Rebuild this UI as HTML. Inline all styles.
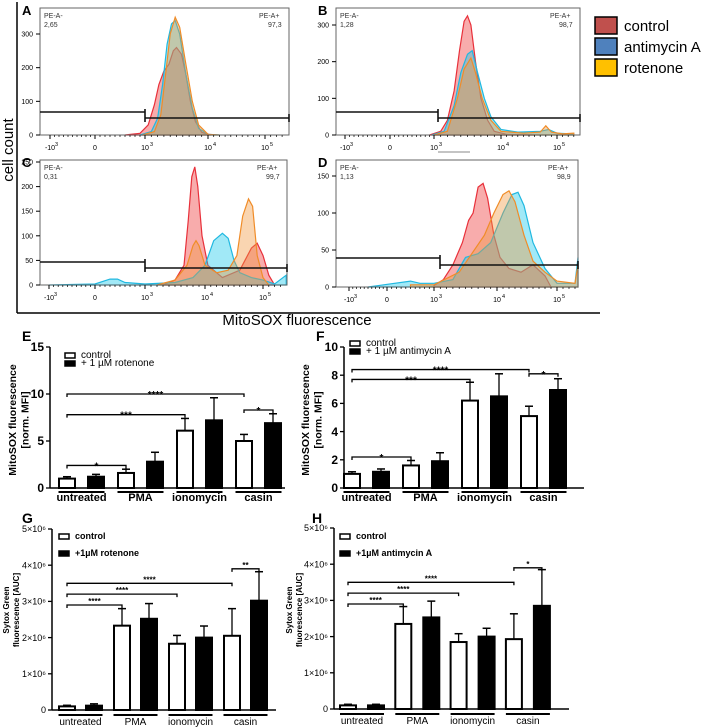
<!DOCTYPE html>
<html><head><meta charset="utf-8">
<style>
html,body{margin:0;padding:0;background:#fff;}
svg{display:block;font-family:"Liberation Sans",Arial,sans-serif;}
</style></head>
<body>
<svg id="fig" width="708" height="728" viewBox="0 0 708 728" xmlns="http://www.w3.org/2000/svg">
  <line x1="17" y1="2" x2="17" y2="313" stroke="#000" stroke-width="1.5"/>
  <line x1="17" y1="313" x2="600" y2="313" stroke="#000" stroke-width="1.5"/>
  <text x="13" y="150" font-size="15" text-anchor="middle" transform="rotate(-90 13 150)">cell count</text>
  <text x="297" y="325" font-size="15" text-anchor="middle">MitoSOX fluorescence</text>
  <g>
    <rect x="595" y="17" width="22" height="17" fill="#c0504d" stroke="#000" stroke-width="1.5"/>
    <text x="624" y="31" font-size="15">control</text>
    <rect x="595" y="38" width="22" height="17" fill="#4f81bd" stroke="#000" stroke-width="1.5"/>
    <text x="624" y="52" font-size="15">antimycin A</text>
    <rect x="595" y="59" width="22" height="17" fill="#ffc000" stroke="#000" stroke-width="1.5"/>
    <text x="624" y="73" font-size="15">rotenone</text>
  </g>
</svg>
<script>
// ---------- Flow histogram data (u: -1=-10^3, 0=0, 1=10^3, 2=10^4, 3=10^5 ; counts) ----------
const aRedU=[0.6,0.9,1.05,1.15,1.22,1.3,1.38,1.45,1.5,1.58,1.65,1.72,1.8,1.9,2.05];
const aRedC=[0,5,30,90,150,190,210,250,260,240,180,100,40,8,0];
const aBlueU=[0.9,1.1,1.2,1.28,1.35,1.42,1.48,1.55,1.65,1.75,1.85,2.0,2.2];
const aBlueC=[0,10,50,150,270,330,340,300,180,80,20,2,0];
const aOrU=[0.95,1.15,1.25,1.32,1.4,1.48,1.55,1.65,1.75,1.85,2.0,2.2];
const aOrC=[0,10,60,170,300,350,320,210,100,30,2,0];

const bRedU=[0.9,1.1,1.2,1.3,1.38,1.45,1.5,1.55,1.62,1.7,1.8,1.9,2.1,2.6];
const bRedC=[0,10,40,120,230,310,325,300,200,100,40,10,2,0];
const bBlueU=[0.95,1.15,1.3,1.4,1.5,1.57,1.65,1.75,1.85,2.0,2.3,2.7,2.85,3.0,3.3];
const bBlueC=[0,10,80,170,220,230,170,100,50,15,8,10,15,5,3];
const bOrU=[1.0,1.2,1.35,1.45,1.55,1.62,1.72,1.85,2.0,2.4,2.7,2.8,2.9,3.1,3.3];
const bOrC=[0,10,100,180,210,170,100,40,10,5,8,25,8,3,5];

const cRedU=[1.3,1.5,1.65,1.72,1.78,1.83,1.88,1.95,2.05,2.3,2.6,2.8,2.9,3.0,3.1,3.2];
const cRedC=[0,10,40,130,220,240,200,100,40,15,30,75,85,60,20,0];
const cBlueU=[-1,0,0.3,0.45,0.6,1.0,1.5,1.8,2.0,2.15,2.3,2.4,2.5,2.6,2.8,3.0,3.2,3.4];
const cBlueC=[0,2,12,12,5,2,5,15,40,90,105,95,50,25,15,10,2,20];
const cOrU=[1.2,1.5,1.7,1.8,1.85,1.9,2.0,2.2,2.4,2.55,2.65,2.75,2.82,2.9,3.0,3.1];
const cOrC=[0,10,40,80,90,80,40,25,30,60,140,175,160,60,15,0];

const dRedU=[1.0,1.15,1.3,1.45,1.55,1.62,1.7,1.78,1.85,1.95,2.05,2.2,2.4,2.6,2.8,2.9];
const dRedC=[2,10,30,60,90,100,135,140,120,70,40,25,20,30,15,0];
const dBlueU=[-0.5,0.5,0.7,1.0,1.3,1.5,1.7,1.9,2.1,2.25,2.35,2.45,2.6,2.8,3.0,3.3,3.4];
const dBlueC=[0,8,5,5,10,40,45,60,100,125,128,110,60,25,5,5,40];
const dOrU=[0.5,1.0,1.4,1.6,1.8,1.95,2.1,2.2,2.3,2.45,2.6,2.8,3.0,3.3,3.4];
const dOrC=[3,3,20,45,70,100,125,130,115,70,35,20,8,5,30];

const yTicksA=[0,100,200,300];
const yTicksB=[0,100,200,300];
const yTicksC=[0,50,100,150,200,250];
const yTicksD=[0,50,100,150];
const xTickU=[-1,0,1,2,3];

// ---------- Bar chart data ----------
const barCats=["untreated","PMA","ionomycin","casin"];
const eCtrl=[1.0,1.6,6.1,5.0];      const eCtrlErr=[0.2,0.4,1.3,0.7];
const eTreat=[1.2,2.8,7.2,6.9];     const eTreatErr=[0.25,1.0,2.4,1.0];
const eTicks=[0,5,10,15];
const fCtrl=[1.0,1.6,6.2,5.1];      const fCtrlErr=[0.15,0.35,1.3,0.7];
const fTreat=[1.15,1.9,6.5,6.95];   const fTreatErr=[0.2,0.6,1.6,0.8];
const fTicks=[0,2,4,6,8,10];
const gCtrl=[0.1,2.33,1.83,2.05];   const gCtrlErr=[0.03,0.47,0.23,0.75];
const gTreat=[0.12,2.52,2.0,3.02];  const gTreatErr=[0.05,0.42,0.32,0.8];
const gTicks=[0,1,2,3,4,5];
const hCtrl=[0.1,2.35,1.85,1.93];   const hCtrlErr=[0.03,0.48,0.23,0.7];
const hTreat=[0.1,2.53,2.0,2.85];   const hTreatErr=[0.03,0.45,0.23,1.0];
const hTicks=[0,1,2,3,4,5];
// significance: [fromGroup, toGroup, level, stars, toTreated]
const eSig=[[0,1,2.4,"*",0],[0,2,7.8,"***",0],[0,3,10,"****",0],[3,3,8.3,"*",1]];
const fSig=[[0,1,2.2,"*",0],[0,2,7.7,"***",0],[0,3,8.4,"****",0],[3,3,8.1,"*",1]];
const gSig=[[0,1,2.9,"****",0],[0,2,3.2,"****",0],[0,3,3.5,"****",0],[3,3,3.9,"**",1]];
const hSig=[[0,1,2.9,"****",0],[0,2,3.2,"****",0],[0,3,3.5,"****",0],[3,3,3.9,"*",1]];

const NS="http://www.w3.org/2000/svg";
const svg=document.getElementById('fig');
function mk(tag,attrs,parent,txt){const e=document.createElementNS(NS,tag);for(const k in attrs)e.setAttribute(k,attrs[k]);if(txt!==undefined)e.textContent=txt;(parent||svg).appendChild(e);return e;}

function flowPanel(cfg){
  const g=mk('g',{});
  
  
  const [x0,y0,x1,y1]=cfg.box;
  const up=cfg.upos;
  function xs(u){let i=Math.floor(u)+1;if(i<0)i=0;if(i>3)i=3;const t=u-(i-1);return up[i]+(up[i+1]-up[i])*t;}
  const k=(y1-cfg.topTickY)/cfg.topTickVal;
  function ys(c){return y1-c*k;}
  const series=[[cfg.red,'rgba(240,70,70,0.45)','#e8303a','control'],[cfg.blue,'rgba(20,200,235,0.4)','#20b8e0','antimycin'],[cfg.or,'rgba(240,150,60,0.4)','#f08c28','rotenone']];
  series.forEach(s=>{
    const [U,C]=s[0];
    let d='M'+xs(U[0]).toFixed(1)+','+y1;
    for(let i=0;i<U.length;i++)d+=' L'+Math.min(x1,xs(U[i])).toFixed(1)+','+ys(C[i]).toFixed(1);
    d+=' L'+Math.min(x1,xs(U[U.length-1])).toFixed(1)+','+y1+' Z';
    const p=mk('path',{d:d,fill:s[1],stroke:s[2],'stroke-width':1.2},g);
    
    
  });
  const box=mk('rect',{x:x0,y:y0,width:x1-x0,height:y1-y0,fill:'none',stroke:'#666','stroke-width':1},g);
  
  
  cfg.yticks.forEach(v=>{
    mk('line',{x1:x0-4,x2:x0,y1:ys(v),y2:ys(v),stroke:'#000','stroke-width':1},g);
    const t=mk('text',{x:x0-7,y:ys(v)+2.5,'font-size':7,'text-anchor':'end'},g,String(v));
    
    
  });
  for(let u=-1;u<3.4;u+=0.1){mk('line',{x1:xs(u),x2:xs(u),y1:y1,y2:y1+2,stroke:'#000','stroke-width':0.7},g);}
  const lbl=['-10','0','10','10','10'],sup=['3','','3','4','5'];
  xTickU.forEach((u,i)=>{
    mk('line',{x1:xs(u),x2:xs(u),y1:y1,y2:y1+4,stroke:'#000','stroke-width':1},g);
    const t=mk('text',{x:xs(u),y:y1+15,'font-size':7,'text-anchor':'middle'},g,lbl[i]);
    
    
    if(sup[i])mk('text',{x:xs(u)+5,y:y1+11,'font-size':5.5},g,sup[i]);
  });
  const gx=cfg.gateX;
  mk('line',{x1:x0,x2:gx,y1:cfg.gateL,y2:cfg.gateL,stroke:'#111','stroke-width':1.6},g);
  mk('line',{x1:gx,x2:gx,y1:cfg.gateL-3,y2:cfg.gateR+4,stroke:'#111','stroke-width':1.6},g);
  mk('line',{x1:gx,x2:x1,y1:cfg.gateR,y2:cfg.gateR,stroke:'#111','stroke-width':1.6},g);
  mk('line',{x1:x1,x2:x1,y1:cfg.gateR-4,y2:cfg.gateR+4,stroke:'#111','stroke-width':1.6},g);
  mk('text',{x:x0+4,y:y0+10,'font-size':7,fill:'#333'},g,'PE-A-');
  mk('text',{x:x0+4,y:y0+19,'font-size':7,fill:'#333'},g,cfg.neg);
  mk('text',{x:x1-30,y:y0+10,'font-size':7,fill:'#333'},g,'PE-A+');
  mk('text',{x:x1-21,y:y0+19,'font-size':7,fill:'#333'},g,cfg.pos);
  const L=mk('text',{x:x0-18,y:y0+7,'font-size':13,'font-weight':'bold'},g,cfg.letter);
  
  
}
flowPanel({letter:'A',box:[40,8,289,135],upos:[50,95,145,208,265],topTickY:34,topTickVal:300,yticks:yTicksA,red:[aRedU,aRedC],blue:[aBlueU,aBlueC],or:[aOrU,aOrC],gateX:145,gateL:112,gateR:118,neg:'2,65',pos:'97,3'});
flowPanel({letter:'B',box:[336,8,580,135],upos:[345,390,434,501,557],topTickY:25,topTickVal:300,yticks:yTicksB,red:[bRedU,bRedC],blue:[bBlueU,bBlueC],or:[bOrU,bOrC],gateX:438,gateL:112,gateR:118,neg:'1,28',pos:'98,7'});
flowPanel({letter:'C',box:[40,160,287,285],upos:[49,95,145,205,263],topTickY:162,topTickVal:250,yticks:yTicksC,red:[cRedU,cRedC],blue:[cBlueU,cBlueC],or:[cOrU,cOrC],gateX:145,gateL:262,gateR:268,neg:'0,31',pos:'99,7'});
flowPanel({letter:'D',box:[336,160,578,287],upos:[349,387,434,497,557],topTickY:176,topTickVal:150,yticks:yTicksD,red:[dRedU,dRedC],blue:[dBlueU,dBlueC],or:[dOrU,dOrC],gateX:440,gateL:258,gateR:265,neg:'1,13',pos:'98,9'});
mk('line',{x1:438,x2:470,y1:152,y2:152,stroke:'#888','stroke-width':1});

function barChart(cfg){
  const g=mk('g',{});
  
  
  const ys=v=>cfg.y0-v*cfg.k;
  const ctrlX=i=>cfg.start+i*cfg.sp;
  const trX=i=>ctrlX(i)+cfg.off;
  const w=cfg.bw;
  function bar(x,v,e,fill,name){
    const top=ys(v);
    mk('line',{x1:x+w/2,x2:x+w/2,y1:top,y2:ys(v+e),stroke:'#000','stroke-width':1.3},g);
    mk('line',{x1:x+w/2-4,x2:x+w/2+4,y1:ys(v+e),y2:ys(v+e),stroke:'#000','stroke-width':1.5},g);
    const r=mk('rect',{x:x+1,y:top,width:w-2,height:cfg.y0-top,fill:fill,stroke:'#000','stroke-width':2},g);
    
    
  }
  barCats.forEach((c,i)=>{
    bar(ctrlX(i),cfg.ctrl[i],cfg.ctrlErr[i],'#fff','bar-control-'+c);
    bar(trX(i),cfg.treat[i],cfg.treatErr[i],'#000','bar-treated-'+c);
    const cx=(ctrlX(i)+trX(i)+w)/2;
    mk('line',{x1:cx-cfg.ul,x2:cx+cfg.ul,y1:cfg.y0+cfg.ulY,y2:cfg.y0+cfg.ulY,stroke:'#000','stroke-width':2},g);
    const t=mk('text',{x:cx,y:cfg.y0+cfg.lblY,'font-size':cfg.lblFs,'font-weight':cfg.lblW,'text-anchor':'middle'},g,c);
    
    
  });
  mk('line',{x1:cfg.ax,x2:cfg.ax,y1:ys(cfg.ticks[cfg.ticks.length-1]),y2:cfg.y0,stroke:'#000','stroke-width':1.5},g);
  mk('line',{x1:cfg.ax,x2:cfg.xEnd,y1:cfg.y0,y2:cfg.y0,stroke:'#000','stroke-width':1.5},g);
  cfg.ticks.forEach(v=>{
    mk('line',{x1:cfg.ax-4,x2:cfg.ax,y1:ys(v),y2:ys(v),stroke:'#000','stroke-width':1.3},g);
    const t=mk('text',{x:cfg.ax-6,y:ys(v)+cfg.tickFs*0.35,'font-size':cfg.tickFs,'font-weight':cfg.tickW,'text-anchor':'end'},g,cfg.fmt(v));
    
    
  });
  cfg.sig.forEach(s=>{
    const x1=ctrlX(s[0])+w/2;
    const x2=s[4]?trX(s[1])+w/2:ctrlX(s[1])+w/2;
    const y=ys(s[2]);
    mk('path',{d:`M${x1},${y+3} V${y} H${x2} V${y+3}`,fill:'none',stroke:'#000','stroke-width':1.3},g);
    const t=mk('text',{x:(x1+x2)/2,y:y+(cfg.starUp||-1),'font-size':cfg.starFs,'font-weight':'bold','text-anchor':'middle'},g,s[3]);
    
    
  });
  mk('rect',{x:cfg.legX,y:cfg.legY,width:10,height:5,fill:'#fff',stroke:'#000','stroke-width':1.5},g);
  mk('rect',{x:cfg.legX,y:cfg.legY+cfg.legDy,width:10,height:5,fill:'#000',stroke:'#000','stroke-width':1.5},g);
  mk('text',{x:cfg.legX+16,y:cfg.legY+5,'font-size':cfg.legFs,'font-weight':cfg.legW},g,'control');
  mk('text',{x:cfg.legX+16,y:cfg.legY+cfg.legDy+5,'font-size':cfg.legFs,'font-weight':cfg.legW},g,cfg.treatName);
  const tx=cfg.titleX, ty=cfg.titleY;
  const t1=mk('text',{x:tx,y:ty,'font-size':cfg.titleFs,'font-weight':'bold','text-anchor':'middle',transform:`rotate(-90 ${tx} ${ty})`},g,cfg.title1);
  
  
  mk('text',{x:tx+cfg.titleFs+2,y:ty,'font-size':cfg.titleFs,'font-weight':'bold','text-anchor':'middle',transform:`rotate(-90 ${tx+cfg.titleFs+2} ${ty})`},g,cfg.title2);
  const L=mk('text',{x:cfg.letX,y:cfg.letY,'font-size':14,'font-weight':'bold'},g,cfg.letter);
  
  
}
const plain=v=>String(v);
const sci=v=>v===0?'0':v+'×10⁶';
const common1={bw:18,tickFs:12,tickW:'bold',lblFs:11,lblW:'bold',ulY:4,lblY:13,ul:23,starFs:10,legFs:10,legW:'normal',legDy:8,titleFs:10.5};
barChart(Object.assign({},common1,{letter:'E',letX:22,letY:341,y0:488,k:141/15,ax:50,xEnd:285,start:58,sp:59,off:29,ctrl:eCtrl,ctrlErr:eCtrlErr,treat:eTreat,treatErr:eTreatErr,ticks:eTicks,fmt:plain,sig:eSig,legX:65,legY:353,treatName:'+ 1 µM rotenone',title1:'MitoSOX fluorescence',title2:'[norm. MFI]',titleX:16,titleY:420,starUp:4}));
barChart(Object.assign({},common1,{letter:'F',letX:316,letY:341,y0:488,k:14.1,ax:344,xEnd:584,start:343,sp:59,off:29,ctrl:fCtrl,ctrlErr:fCtrlErr,treat:fTreat,treatErr:fTreatErr,ticks:fTicks,fmt:plain,sig:fSig,legX:350,legY:341,treatName:'+ 1 µM antimycin A',title1:'MitoSOX fluorescence',title2:'[norm. MFI]',titleX:309,titleY:420,starUp:4}));
const common2={bw:18,tickFs:9,tickW:'normal',lblFs:10,lblW:'normal',ulY:5,lblY:15,ul:22,starFs:8,legFs:9,legW:'bold',legDy:17,titleFs:8};
barChart(Object.assign({},common2,{letter:'G',letX:22,letY:523,y0:710,k:36.2,ax:52,xEnd:276,start:58,sp:55,off:27,ctrl:gCtrl,ctrlErr:gCtrlErr,treat:gTreat,treatErr:gTreatErr,ticks:gTicks,fmt:sci,sig:gSig,legX:59,legY:534,treatName:'+1µM rotenone',title1:'Sytox Green',title2:'fluorescence [AUC]',titleX:9,titleY:610}));
barChart(Object.assign({},common2,{letter:'H',letX:312,letY:523,y0:709,k:36.2,ax:334,xEnd:569,start:339,sp:55.3,off:28,ctrl:hCtrl,ctrlErr:hCtrlErr,treat:hTreat,treatErr:hTreatErr,ticks:hTicks,fmt:sci,sig:hSig,legX:340,legY:534,treatName:'+1µM antimycin A',title1:'Sytox Green',title2:'fluorescence [AUC]',titleX:292,titleY:610}));
</script>
</body></html>
